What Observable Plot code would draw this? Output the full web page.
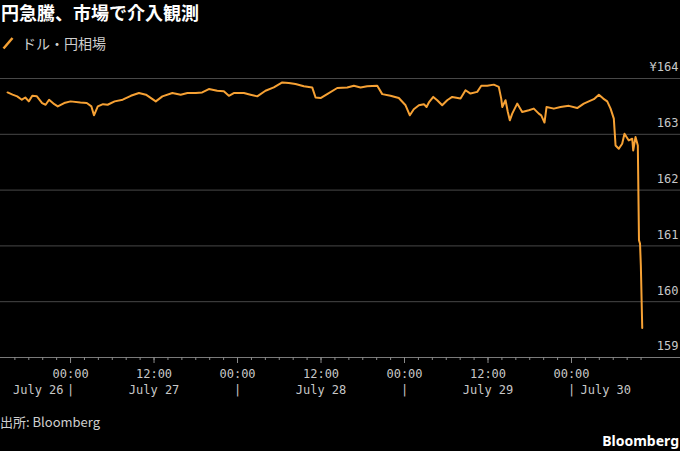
<!DOCTYPE html>
<html><head><meta charset="utf-8">
<script src="https://cdn.jsdelivr.net/npm/d3@7"></script>
<script src="https://cdn.jsdelivr.net/npm/@observablehq/plot@0.6"></script>
<style>
body{margin:0;background:#000;width:680px;height:451px;overflow:hidden;position:relative;font-family:"Noto Sans CJK JP","Noto Sans",sans-serif;}
#title{position:absolute;left:1px;top:0px;font-size:18px;font-weight:bold;color:#fff;line-height:24px;white-space:nowrap;}
#legend{position:absolute;left:2px;top:33px;font-size:14px;color:#cfcfcf;line-height:20px;white-space:nowrap;display:flex;align-items:center;}
#legend svg{margin-right:8px;}
#chart{position:absolute;left:0;top:55px;}
#source{position:absolute;left:0;top:412px;font-size:13px;color:#cfcfcf;line-height:20px;}
#brand{position:absolute;right:1px;top:431px;font-weight:bold;font-size:14px;color:#fff;line-height:20px;font-family:"Noto Sans",sans-serif;}
</style></head>
<body>
<div id="title">円急騰、市場で介入観測</div>
<div id="legend"><svg width="12" height="14"><line x1="1.5" y1="12.5" x2="10.5" y2="2" stroke="#f6a134" stroke-width="2.5"/></svg>ドル・円相場</div>
<div id="chart"></div>
<div id="source">出所: Bloomberg</div>
<div id="brand">Bloomberg</div>
<script>
const seriesName = "ドル・円相場";
// [time of day, USD/JPY] per calendar day
const jul26 = [["14:57",163.75],["15:40",163.71],["16:20",163.68],["17:00",163.62],["17:30",163.66],["18:00",163.59],["18:30",163.69],["19:10",163.68],["19:55",163.56],["20:25",163.53],["20:55",163.62],["21:40",163.54],["22:10",163.50],["23:05",163.56]];
const jul27 = [["00:00",163.59],["01:25",163.57],["02:20",163.56],["03:00",163.50],["03:22",163.34],["03:55",163.50],["04:40",163.54],["05:20",163.53],["06:20",163.59],["07:30",163.62],["08:40",163.69],["09:50",163.74],["10:50",163.71],["12:15",163.59],["13:12",163.68],["14:38",163.74],["15:50",163.71],["16:48",163.74],["18:00",163.74],["18:55",163.75],["19:53",163.81],["21:05",163.78],["22:02",163.77],["22:45",163.69],["23:28",163.74]];
const jul28 = [["00:55",163.74],["01:52",163.71],["02:50",163.68],["04:01",163.78],["05:13",163.84],["06:26",163.93],["07:22",163.92],["08:20",163.90],["09:32",163.86],["10:44",163.84],["11:13",163.66],["11:56",163.65],["12:53",163.72],["14:20",163.83],["15:46",163.84],["16:43",163.87],["17:41",163.84],["18:38",163.86],["20:05",163.87],["20:48",163.72],["21:59",163.69],["23:11",163.65]];
const jul29 = [["00:09",163.52],["00:46",163.34],["01:20",163.45],["02:04",163.52],["02:47",163.54],["03:10",163.49],["03:30",163.57],["04:08",163.67],["04:42",163.61],["05:25",163.52],["06:08",163.61],["06:51",163.67],["08:03",163.64],["08:46",163.79],["09:29",163.73],["10:27",163.76],["11:02",163.87],["11:53",163.87],["12:50",163.89],["13:33",163.85],["13:54",163.64],["14:03",163.49],["14:31",163.61],["14:51",163.40],["15:08",163.25],["15:29",163.37],["16:12",163.55],["16:55",163.40],["17:52",163.43],["18:35",163.46],["19:18",163.37],["19:39",163.34],["20:07",163.21],["20:25",163.49],["21:28",163.46],["22:25",163.49],["23:37",163.51]];
const jul30 = [["00:49",163.47],["01:46",163.55],["02:29",163.59],["03:13",163.63],["03:56",163.71],["04:34",163.64],["05:08",163.59],["05:37",163.46],["06:05",163.28],["06:20",162.80],["06:48",162.74],["07:17",162.83],["07:37",163.01],["08:14",162.89],["08:44",162.92],["08:52",162.71],["09:12",162.95],["09:32",162.80],["09:42",161.10],["09:51",161.04],["09:58",160.65],["10:10",159.53]];

const yTicks = [159,160,161,162,163,164];
const yTickLabels = ["159","160","161","162","163","¥164"];
const hourLabelTimes = ["2024-07-27T00:00","2024-07-27T12:00","2024-07-28T00:00","2024-07-28T12:00","2024-07-29T00:00","2024-07-29T12:00","2024-07-30T00:00"];
const dayBoundaries = ["2024-07-27T00:00","2024-07-28T00:00","2024-07-29T00:00","2024-07-30T00:00"];
const dayLabels = ["July 26","July 27","July 28","July 29","July 30"];
const dayLabelTimes = ["2024-07-27T00:00","2024-07-27T12:00","2024-07-28T12:00","2024-07-29T12:00","2024-07-30T00:00"];
const xDomain = ["2024-07-26T13:56","2024-07-30T15:40"];

const P = s => new Date(s + "Z");
const data = [["2024-07-26",jul26],["2024-07-27",jul27],["2024-07-28",jul28],["2024-07-29",jul29],["2024-07-30",jul30]]
  .flatMap(([day, rows]) => rows.map(([hm, v]) => ({t: P(day + "T" + hm), v})));
const dataEnd = data[data.length-1].t;
const minorTicks = d3.utcHour.every(2).range(P("2024-07-26T16:00"), new Date(+dataEnd + 1));
const majorTicks = hourLabelTimes.map(P);
const fmt = d3.utcFormat("%H:%M");
const days = dayLabels.map((l,i) => ({t: P(dayLabelTimes[i]), label: l}));
const mono = "'DejaVu Sans Mono', monospace";

const chart = Plot.plot({
  width: 680, height: 345,
  marginTop: 23, marginBottom: 43, marginLeft: 0, marginRight: 0,
  style: {background: "transparent", color: "#c8c8c8", fontFamily: mono, fontSize: "12px"},
  x: {type: "utc", domain: xDomain.map(P), label: null},
  y: {domain: [159, 164], axis: null, label: null},
  marks: [
    Plot.ruleY(yTicks.filter(d => d > 159), {stroke: "#484848", strokeWidth: 1}),
    Plot.ruleY([159], {stroke: "#7a7a7a", strokeWidth: 1}),
    Plot.axisX(minorTicks, {tickSize: 3, tickFormat: () => "", stroke: "#8a8a8a", label: null}),
    Plot.axisX(majorTicks, {tickSize: 6, tickFormat: () => "", stroke: "#8a8a8a", label: null}),
    Plot.text(majorTicks, {x: d => d, text: d => fmt(d), frameAnchor: "bottom", dy: 16.5, lineAnchor: "middle", fill: "#c8c8c8", fontFamily: mono}),
    Plot.text(days.slice(0,1), {x: "t", text: "label", frameAnchor: "bottom", dy: 33, dx: -7, textAnchor: "end", lineAnchor: "middle", fill: "#c8c8c8", fontFamily: mono}),
    Plot.text(days.slice(1,4), {x: "t", text: "label", frameAnchor: "bottom", dy: 33, textAnchor: "middle", lineAnchor: "middle", fill: "#c8c8c8", fontFamily: mono}),
    Plot.text(days.slice(4), {x: "t", text: "label", frameAnchor: "bottom", dy: 33, dx: 9, textAnchor: "start", lineAnchor: "middle", fill: "#c8c8c8", fontFamily: mono}),
    Plot.text(dayBoundaries.map(P), {x: d => d, text: () => "|", frameAnchor: "bottom", dy: 33, lineAnchor: "middle", fill: "#c8c8c8", fontFamily: mono}),
    Plot.text(yTicks, {y: d => d, text: (d,i) => yTickLabels[i], frameAnchor: "right", textAnchor: "end", dx: -2, dy: -11, lineAnchor: "middle", fill: "#c8c8c8", fontFamily: mono}),
    Plot.line(data, {x: "t", y: "v", stroke: "#f6a134", strokeWidth: 2, strokeLinejoin: "round"})
  ]
});
document.getElementById("chart").appendChild(chart);
</script>
</body></html>
